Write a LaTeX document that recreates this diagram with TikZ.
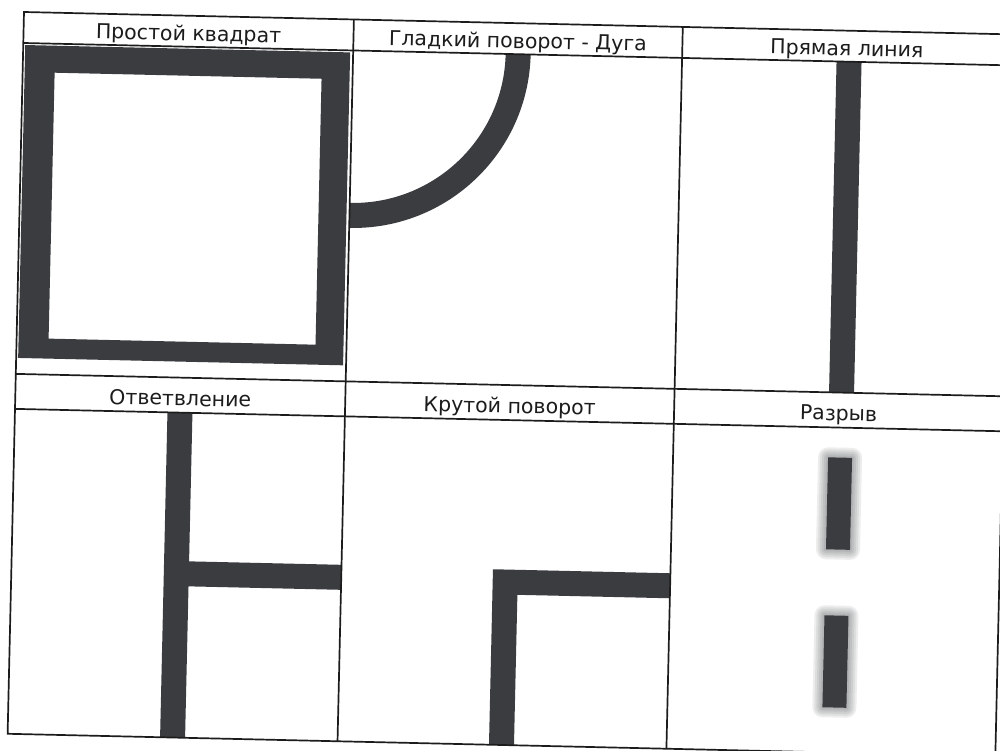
\documentclass[tikz,border=0pt]{standalone}
\usepackage{fontspec}
\setmainfont{DejaVu Sans}
\definecolor{ink}{RGB}{58,60,63}
\definecolor{gridcol}{RGB}{28,28,28}
\usetikzlibrary{calc}

\begin{document}
\begin{tikzpicture}[x=1pt,y=-1pt]
  \useasboundingbox (0,0) rectangle (1000,751);
  \clip (0,0) rectangle (1000,751);
  \fill[white] (0,0) rectangle (1000,751);
  \begin{scope}[shift={(24,12)},rotate=-1.3,transform shape,
      grid/.style={draw=gridcol,line width=1.7},
      bar/.style={draw=ink,line width=25},
      hdr/.style={anchor=base,inner sep=0pt,font=\fontsize{20.5}{24}\selectfont,text=gridcol}]
    \fill[ink,even odd rule] (2,33) rectangle (327,346) (32,60) rectangle (299,326);
    \draw[bar] (495,31) arc[start angle=0,end angle=90,radius=165];
    \draw[bar] (826,31) -- (826,362);
    \draw[bar] (165,397) -- (165,722);
    \draw[bar] (165,558) -- (330,558);
    \draw[bar,line join=miter] (494,722) -- (494,559) -- (659,559);
    \foreach \v in {427,585} {
      \foreach \d in {10,8,6,4,2}
        \fill[ink,opacity=0.09,rounded corners=\d] (814-\d,\v-\d) rectangle (838+\d,\v+92+\d);
      \fill[ink] (814,\v) rectangle (838,\v+92);
    }
    \draw[grid] (0,0) rectangle (988,722);
    \draw[grid] (0,31) -- (988,31);
    \draw[grid] (0,362) -- (988,362);
    \draw[grid] (0,397) -- (988,397);
    \draw[grid] (330,0) -- (330,722);
    \draw[grid] (659,0) -- (659,722);
    \node[hdr] (sq) at (165,25) {Простой квадрат};
    \node[hdr] (arc) at (494.5,25) {Гладкий поворот - Дуга};
    \node[hdr] (line) at (823.5,25) {Прямая линия};
    \node[hdr] (fork) at (165,390) {Ответвление};
    \node[hdr] (turn) at (494.5,390) {Крутой поворот};
    \node[hdr] (gap) at (823.5,390) {Разрыв};
  \end{scope}
\end{tikzpicture}
\end{document}
